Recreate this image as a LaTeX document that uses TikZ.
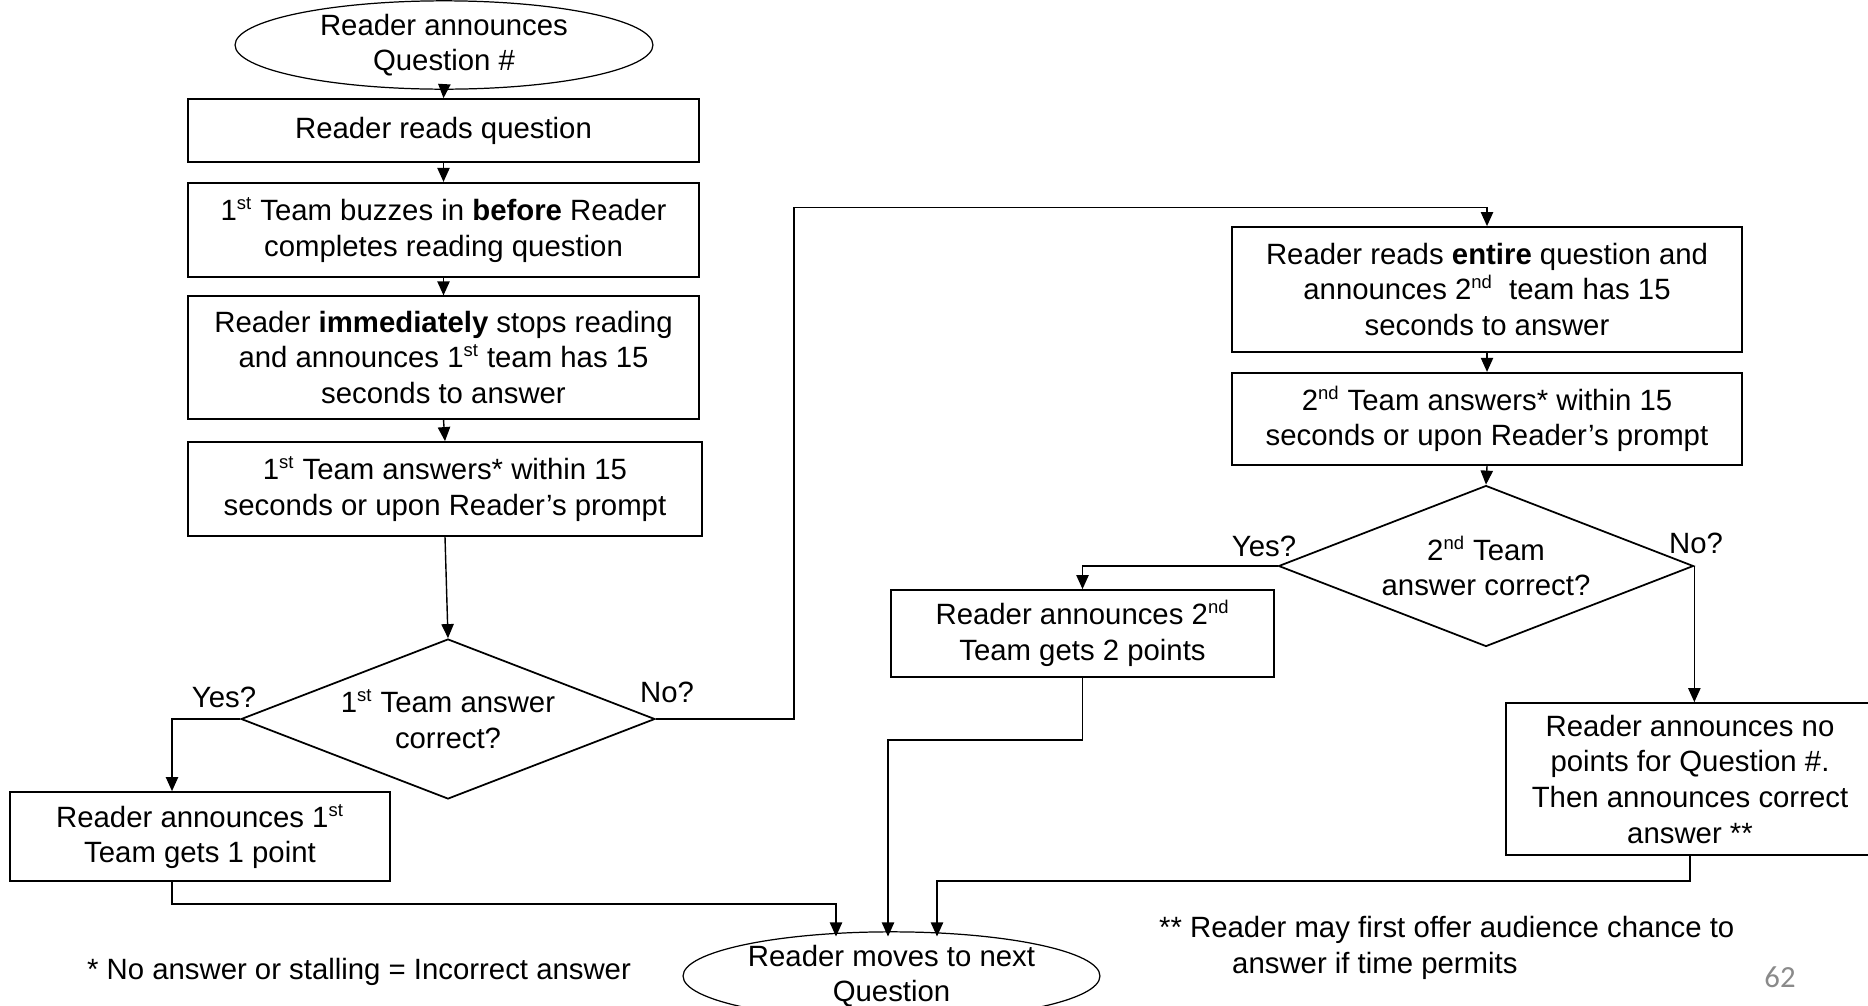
\documentclass[tikz,border=0pt]{standalone}
\usepackage{fontspec}
\setmainfont{Liberation Sans}
\newfontfamily\numfont{Carlito}
\newcommand\ordi[1]{\textsuperscript{\fontsize{10.5}{10.5}\selectfont #1}}
\usetikzlibrary{shapes.geometric,arrows.meta}
\begin{document}
\begin{tikzpicture}[x=0.02cm,y=-0.02cm,
    every node/.style={font=\fontsize{16.7}{20.3}\selectfont},
    caja/.style={draw,line width=1pt,align=center,inner sep=0pt},
    elipse/.style={draw,ellipse,line width=0.7pt,align=center,inner sep=0pt},
    rombo/.style={draw,diamond,aspect=2.6,line width=1pt,align=center,inner sep=0pt},
    flecha/.style={line width=0.8pt,-{Triangle[length=8pt,width=7pt]}}]
    \useasboundingbox (0,0) rectangle (1868,1005);
    % Inicio
    \node[elipse,minimum width=8.36cm,minimum height=1.56cm] (inicio) at (444,45) {Reader announces\\Question \#};
    % Primer equipo
    \node[caja,minimum width=10.22cm,minimum height=1.26cm] (lee) at (443.5,130.5) {Reader reads question};
    \node[caja,minimum width=10.22cm,minimum height=1.89cm] (timbre) at (443.5,230) {1\ordi{st} Team buzzes in \textbf{before} Reader\\completes reading question};
    \node[caja,minimum width=10.22cm,minimum height=2.45cm] (para) at (443.5,357.5) {Reader \textbf{immediately} stops reading\\and announces 1\ordi{st} team has 15\\seconds to answer};
    \node[caja,minimum width=10.29cm,minimum height=1.88cm] (resp1) at (445,489) {1\ordi{st} Team answers* within 15\\seconds or upon Reader’s prompt};
    \node[rombo,minimum width=8.28cm,minimum height=3.2cm] (dec1) at (448,719) {1\ordi{st} Team answer\\correct?};
    \node[caja,minimum width=7.6cm,minimum height=1.78cm] (pts1) at (200,836.5) {Reader announces 1\ordi{st}\\Team gets 1 point};
    % Segundo equipo
    \node[caja,minimum width=10.2cm,minimum height=2.5cm] (entera) at (1487,289.5) {Reader reads \textbf{entire} question and\\announces 2\ordi{nd}\ \ team has 15\\seconds to answer};
    \node[caja,minimum width=10.2cm,minimum height=1.85cm] (resp2) at (1487,419) {2\ordi{nd} Team answers* within 15\\seconds or upon Reader’s prompt};
    \node[rombo,minimum width=8.3cm,minimum height=3.22cm] (dec2) at (1486,566) {2\ordi{nd} Team\\answer correct?};
    \node[caja,minimum width=7.66cm,minimum height=1.74cm] (pts2) at (1082.5,633.5) {Reader announces 2\ordi{nd}\\Team gets 2 points};
    \node[caja,minimum width=7.36cm,minimum height=3.04cm] (nada) at (1690,779) {Reader announces no\\points for Question \#.\\Then announces correct\\answer **};
    % Fin
    \node[elipse,minimum width=8.34cm,minimum height=1.76cm] (sig) at (891.5,976) {Reader moves to next\\Question};
    % Etiquetas
    \node (si1) at (224,697) {Yes?};
    \node (no1) at (667,692) {No?};
    \node (si2) at (1264,546) {Yes?};
    \node (no2) at (1696,543) {No?};
    \node (nota1) at (359,972) {* No answer or stalling = Incorrect answer};
    \node[align=left,anchor=west] (nota2) at (1153,948) {** Reader may first offer audience chance to\\\hspace*{1.46cm}answer if time permits};
    \node[font=\numfont\fontsize{17.5}{20}\selectfont,text=black!46] (pag) at (1780,977) {62};
    % Flechas
    \coordinate (c1) at (172,719);
    \coordinate (c2) at (836,904);
    \coordinate (c3) at (794,207.5);
    \coordinate (c4) at (888,740);
    \coordinate (c5) at (937,881);
    \draw[flecha] (inicio.south) -- (lee.north);
    \draw[flecha] (lee.south) -- (timbre.north);
    \draw[flecha] (timbre.south) -- (para.north);
    \draw[flecha] (para.south) -- (resp1.north);
    \draw[flecha] (resp1.south) -- (dec1.north);
    \draw[flecha] (dec1.west) -| (pts1.north -| c1);
    \draw[flecha] (pts1.south -| c1) |- (c2) -- ([yshift=-3]c2 |- sig.north);
    \draw[flecha] (dec1.east) -| (c3) -| (entera.north);
    \draw[flecha] (entera.south) -- (resp2.north);
    \draw[flecha] (resp2.south) -- (dec2.north);
    \draw[flecha] (dec2.west) -| (pts2.north);
    \draw[flecha] (dec2.east) -- (dec2.east |- nada.north);
    \draw[flecha] (pts2.south) |- (c4) -- ([yshift=-3]c4 |- sig.north);
    \draw[flecha] (nada.south) |- (c5) -- ([yshift=-3]c5 |- sig.north);
\end{tikzpicture}
\end{document}
